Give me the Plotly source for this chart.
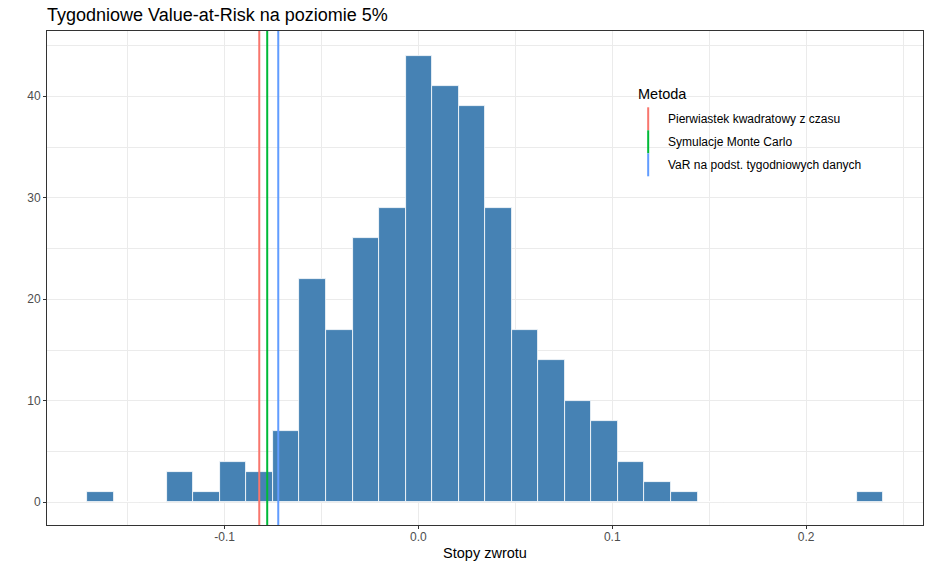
import plotly.graph_objects as go

# ---- data ----
bin_start = -0.1709
bin_width = 0.01369
counts = [1, 0, 0, 3, 1, 4, 3, 7, 22, 17, 26, 29, 44, 41, 39, 29, 17, 14, 10, 8, 4, 2, 1, 0, 0, 0, 0, 0, 0, 1]
var_labels = ["Pierwiastek kwadratowy z czasu", "Symulacje Monte Carlo", "VaR na podst. tygodniowych danych"]
var_values = [-0.0821, -0.0780, -0.0723]
var_colors = ["#F8766D", "#00BA38", "#619CFF"]
x_ticks = [-0.1, 0.0, 0.1, 0.2]
x_ticklabels = ["-0.1", "0.0", "0.1", "0.2"]
y_ticks = [0, 10, 20, 30, 40]

centers = [bin_start + (i + 0.5) * bin_width for i in range(len(counts))]

X_RANGE = [-0.1916, 0.2603]
Y_RANGE = [-2.24, 46.43]

fig = go.Figure()
fig.add_trace(go.Bar(
    x=centers, y=counts, width=[bin_width] * len(counts),
    marker=dict(color="#4682B4", line=dict(color="white", width=0.8)),
    showlegend=False, hoverinfo="x+y",
))
for lab, v, c in zip(var_labels, var_values, var_colors):
    fig.add_trace(go.Scatter(
        x=[v, v], y=[Y_RANGE[0] - 5, Y_RANGE[1] + 5], mode="lines",
        line=dict(color=c, width=2), name=lab, showlegend=False,
    ))

# ---- manual legend (vertical keys like ggplot) ----
W, H = 931, 570
L, R, T, B = 46.7, 7.7, 31, 45
pw, ph = W - L - R, H - T - B

def px(xp):
    return (xp - L) / pw

def py(yp):
    return (H - B - yp) / ph

shapes = []
annotations = []
key_x = 648.3
key_top = 107.3
key_h = 23.0
shapes.append(dict(type="rect", xref="paper", yref="paper",
                   x0=px(638), x1=px(659), y0=py(key_top + 3 * key_h), y1=py(key_top),
                   fillcolor="white", line=dict(width=0), layer="below"))
for i, (lab, c) in enumerate(zip(var_labels, var_colors)):
    y0 = key_top + i * key_h
    shapes.append(dict(type="line", xref="paper", yref="paper",
                       x0=px(key_x), x1=px(key_x), y0=py(y0), y1=py(y0 + key_h),
                       line=dict(color=c, width=2)))
    annotations.append(dict(xref="paper", yref="paper", x=px(666.5), y=py(y0 + key_h / 2),
                            text=lab, showarrow=False, xanchor="left", yanchor="middle",
                            font=dict(size=12, color="black", family="Liberation Sans, Arial")))
annotations.append(dict(xref="paper", yref="paper", x=px(636), y=py(94),
                        text="Metoda", showarrow=False, xanchor="left", yanchor="middle",
                        font=dict(size=14.5, color="black", family="Liberation Sans, Arial")))

axis_common = dict(
    showgrid=True, gridcolor="#EBEBEB", gridwidth=1,
    showline=True, linecolor="#333333", linewidth=1, mirror=True,
    ticks="outside", ticklen=3, tickcolor="#333333", tickwidth=1,
    tickfont=dict(size=12, color="#4D4D4D", family="Liberation Sans, Arial"),
    zeroline=False,
)

fig.update_layout(
    width=W, height=H,
    margin=dict(l=L, r=R, t=T, b=B),
    paper_bgcolor="white", plot_bgcolor="white",
    bargap=0,
    title=dict(text="Tygodniowe Value-at-Risk na poziomie 5%", x=47 / W, xanchor="left",
               y=1 - 15 / H, yanchor="middle",
               font=dict(size=18, color="black", family="Liberation Sans, Arial")),
    xaxis=dict(range=X_RANGE, tickvals=x_ticks, ticktext=x_ticklabels,
               ticklabelstandoff=-2,
               minor=dict(tickvals=[-0.15, -0.05, 0.05, 0.15, 0.25], showgrid=True,
                          gridcolor="#EBEBEB", gridwidth=0.6, ticks=""),
               title=dict(text="Stopy zwrotu", standoff=4,
                          font=dict(size=14.5, color="black", family="Liberation Sans, Arial")),
               **axis_common),
    yaxis=dict(range=Y_RANGE, tickvals=y_ticks,
               minor=dict(tickvals=[5, 15, 25, 35, 45], showgrid=True,
                          gridcolor="#EBEBEB", gridwidth=0.6, ticks=""),
               **axis_common),
    shapes=shapes, annotations=annotations,
    showlegend=False,
)

fig.write_html("out.html")
